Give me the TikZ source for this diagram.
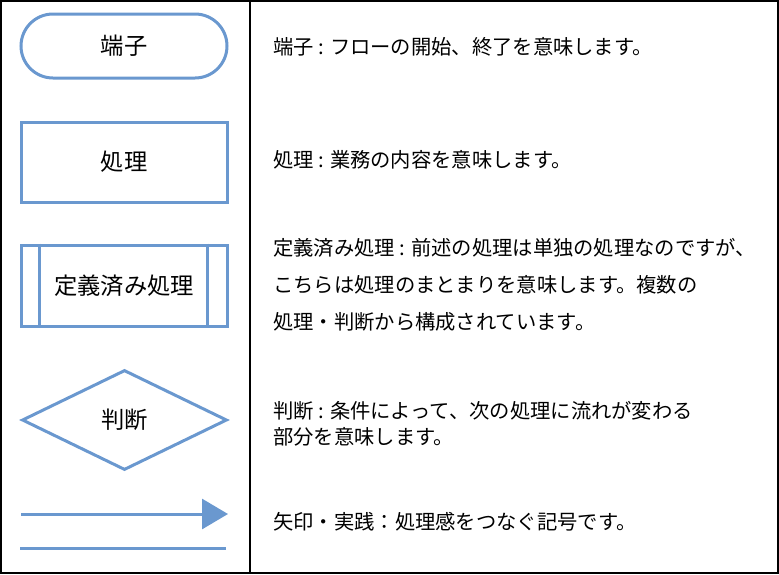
\documentclass[tikz,border=0pt]{standalone}
\usepackage{fontspec}
\setmainfont{Noto Sans CJK JP}
\usetikzlibrary{shapes.geometric,arrows.meta}
\definecolor{shapeblue}{HTML}{6A98CF}
\tikzset{
  shapeline/.style={draw=shapeblue, line width=3pt},
  shapelabel/.style={font=\fontsize{23.3}{26}\selectfont, text=black},
  desc/.style={anchor=west, inner sep=0pt, align=left, font=\fontsize{20.3}{37}\selectfont},
  desctight/.style={anchor=west, inner sep=0pt, align=left, font=\fontsize{20.3}{26}\selectfont}
}
\begin{document}
\begin{tikzpicture}[x=1pt,y=-1pt]
\useasboundingbox (0,0) rectangle (779,574);
% frame
\draw[line width=1.5pt] (1,1) rectangle (778,573);
\draw[line width=1.5pt] (250,1) -- (250,573);
% terminal
\node[shapeline, shapelabel, rectangle, rounded corners=32pt, minimum width=206pt, minimum height=64pt, inner sep=0pt] (term) at (124,46) {端子};
% process
\node[shapeline, shapelabel, rectangle, minimum width=206pt, minimum height=80pt, inner sep=0pt] (proc) at (124,162) {処理};
% predefined process
\node[shapeline, shapelabel, rectangle, minimum width=206pt, minimum height=81pt, inner sep=0pt] (pre) at (124,285.5) {定義済み処理};
\draw[shapeline] ([xshift=20pt]pre.north west) -- ([xshift=20pt]pre.south west);
\draw[shapeline] ([xshift=-21pt]pre.north east) -- ([xshift=-21pt]pre.south east);
% decision
\node[shapeline, shapelabel, diamond, minimum width=205pt, minimum height=100pt, inner sep=0pt] (dec) at (124.5,420) {判断};
% arrow and line
\coordinate (a1) at (21,514);
\coordinate (a2) at (228,514);
\draw[shapeline, -{Triangle[length=26pt,width=30pt]}] (a1) -- (a2);
\coordinate (l1) at (20,548);
\coordinate (l2) at (226,548);
\draw[shapeline] (l1) -- (l2);
% descriptions
\node[desc] (d1) at (273,47) {端子 : フローの開始、終了を意味します。};
\node[desc] (d2) at (273,160) {処理 : 業務の内容を意味します。};
\node[desc] (d3) at (273,285) {定義済み処理 : 前述の処理は単独の処理なのですが、\\こちらは処理のまとまりを意味します。複数の\\処理・判断から構成されています。};
\node[desctight] (d4) at (273,424) {判断 : 条件によって、次の処理に流れが変わる\\部分を意味します。};
\node[desc] (d5) at (273,522) {矢印・実践：処理感をつなぐ記号です。};
\end{tikzpicture}
\end{document}
